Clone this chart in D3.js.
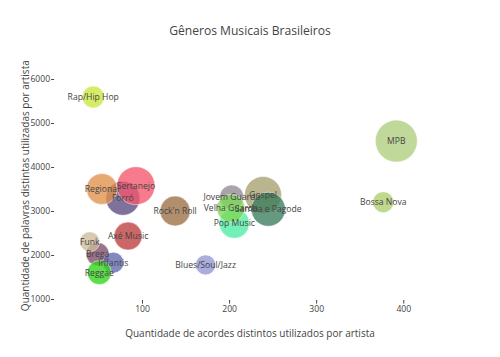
<!DOCTYPE html>
<html>
<head>
<meta charset="utf-8">
<script src="https://cdn.jsdelivr.net/npm/d3@7"></script>
<style>
  body { margin: 0; background: #fff; }
  svg { font-family: "Open Sans", sans-serif; }
</style>
</head>
<body>
<svg id="chart"></svg>
<script>
// Dados
const generos = ["Axé Music", "Blues/Soul/Jazz", "Bossa Nova", "Brega", "Forró", "Funk",
  "Gospel", "Infantis", "Jovem Guarda", "MPB", "Pop Music", "Rap/Hip Hop", "Reggae",
  "Regional", "Rock'n Roll", "Samba e Pagode", "Sertanejo", "Velha Guarda"];
const acordes = [84, 173, 377, 49, 78, 40, 239, 67, 203, 392, 206, 44, 51, 54, 138, 245, 93, 202];
const palavras = [2430, 1775, 3200, 2020, 3290, 2300, 3364, 1825, 3318, 4590, 2720, 5590, 1600,
  3500, 3000, 3040, 3575, 3061];
const tamanhos = [28, 20, 21, 23, 34, 20, 37, 21, 24, 42, 30, 22, 24, 31, 30, 34, 38, 28];
const cores = ["#bd3c3c", "#9496d2", "#b0cd6f", "#7d4a68", "#5a4a82", "#cdba9b",
  "#a79f6f", "#6068ad", "#958895", "#aecd7c", "#4aeca1", "#cae73d", "#31d318",
  "#e28f4a", "#9b6f44", "#3a7d5c", "#f4566d", "#7cd956"];

const xTicks = [100, 200, 300, 400];
const yTicks = [1000, 2000, 3000, 4000, 5000, 6000];

// Configurações do gráfico
const width = 500;
const height = 357;
const margin = { top: 71.4, right: 57.1, bottom: 57, left: 57.1 };

const xScale = d3.scaleLinear()
  .domain([2.5, 445.5])
  .range([margin.left, width - margin.right]);

const yScale = d3.scaleLinear()
  .domain([977, 6173])
  .range([height - margin.bottom, margin.top]);

const rScale = d3.scaleLinear()
  .domain([0, 1])
  .range([0, 0.5]);

const data = generos.map((g, i) => ({
  genero: g, x: acordes[i], y: palavras[i], size: tamanhos[i], cor: cores[i]
}));

const svg = d3.select("#chart")
  .attr("width", width)
  .attr("height", height);

// Título
svg.append("text")
  .attr("x", width / 2)
  .attr("y", 35)
  .attr("text-anchor", "middle")
  .attr("font-size", 12.1)
  .attr("fill", "#444")
  .text("Gêneros Musicais Brasileiros");

// Eixos
const xAxis = svg.append("g")
  .attr("transform", `translate(0,${height - margin.bottom})`)
  .call(d3.axisBottom(xScale).tickValues(xTicks).tickSize(3.6).tickPadding(2).tickFormat(d3.format("d")));

const yAxis = svg.append("g")
  .attr("transform", `translate(${margin.left - 3},0)`)
  .call(d3.axisLeft(yScale).tickValues(yTicks).tickSize(3).tickPadding(1).tickFormat(d3.format("d")));

[xAxis, yAxis].forEach(ax => {
  ax.select(".domain").remove();
  ax.selectAll("line").attr("stroke", "#444");
  ax.selectAll("text")
    .attr("fill", "#444")
    .attr("font-size", 8.6)
    .attr("font-family", "'Open Sans', sans-serif");
});

// Títulos dos eixos
svg.append("text")
  .attr("x", (margin.left + width - margin.right) / 2)
  .attr("y", 337)
  .attr("text-anchor", "middle")
  .attr("font-size", 10)
  .attr("fill", "#444")
  .text("Quantidade de acordes distintos utilizados por artista");

svg.append("text")
  .attr("transform", `translate(29,${(margin.top + height - margin.bottom) / 2}) rotate(-90)`)
  .attr("text-anchor", "middle")
  .attr("font-size", 10)
  .attr("fill", "#444")
  .text("Quantidade de palavras distintas utilizadas por artista");

// Bolhas
svg.append("g")
  .selectAll("circle")
  .data(data)
  .join("circle")
  .attr("cx", d => xScale(d.x))
  .attr("cy", d => yScale(d.y))
  .attr("r", d => rScale(d.size))
  .attr("fill", d => d.cor)
  .attr("fill-opacity", 0.78)
  .attr("stroke", "#fff")
  .attr("stroke-width", 0.5);

// Rótulos por cima das bolhas
svg.append("g")
  .selectAll("text")
  .data(data)
  .join("text")
  .attr("x", d => xScale(d.x))
  .attr("y", d => yScale(d.y))
  .attr("text-anchor", "middle")
  .attr("dy", "0.35em")
  .attr("font-size", 8.6)
  .attr("fill", "#444")
  .text(d => d.genero);
</script>
</body>
</html>
